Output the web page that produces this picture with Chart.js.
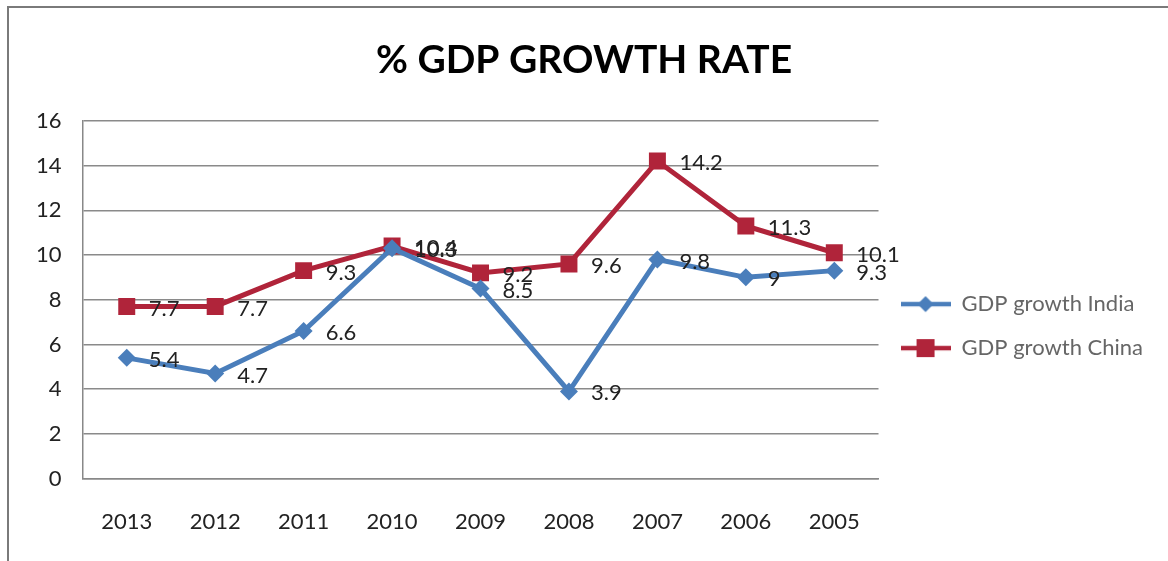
<!DOCTYPE html>
<html>
<head>
<meta charset="utf-8">
<script src="https://cdn.jsdelivr.net/npm/chart.js@4.4.0/dist/chart.umd.min.js"></script>
<style>
  html, body { margin: 0; padding: 0; background: #fff; }
  #wrap { position: relative; width: 1168px; height: 561px; }
</style>
</head>
<body>
<div id="wrap"><canvas id="c" width="1168" height="561"></canvas></div>
<script>
const chartTitle = "% GDP GROWTH RATE";
const years = ["2013", "2012", "2011", "2010", "2009", "2008", "2007", "2006", "2005"];
const indiaLabel = "GDP growth India";
const chinaLabel = "GDP growth China";
const indiaGrowth = [5.4, 4.7, 6.6, 10.3, 8.5, 3.9, 9.8, 9, 9.3];
const chinaGrowth = [7.7, 7.7, 9.3, 10.4, 9.2, 9.6, 14.2, 11.3, 10.1];

const BLUE = "#4A7EBB";
const RED = "#B0243A";
const FONT = "Lato, 'Open Sans', sans-serif";

function legendIcon(color, shape) {
  const cv = document.createElement("canvas");
  cv.width = 50; cv.height = 22;
  const g = cv.getContext("2d");
  g.strokeStyle = color; g.lineWidth = 4.5;
  g.beginPath(); g.moveTo(0, 11); g.lineTo(50, 11); g.stroke();
  g.fillStyle = color;
  if (shape === "diamond") {
    g.beginPath(); g.moveTo(25, 3); g.lineTo(33, 11); g.lineTo(25, 19); g.lineTo(17, 11); g.closePath(); g.fill();
  } else {
    g.fillRect(16, 2, 18, 18);
  }
  return cv;
}

const framePlugin = {
  id: "frame",
  beforeDraw(chart) {
    const ctx = chart.ctx;
    ctx.save();
    ctx.fillStyle = "#fff";
    ctx.fillRect(0, 0, chart.width, chart.height);
    ctx.strokeStyle = "#7a7a7a";
    ctx.lineWidth = 2;
    ctx.beginPath();
    ctx.moveTo(8, chart.height);
    ctx.lineTo(8, 7);
    ctx.lineTo(chart.width, 7);
    ctx.stroke();
    ctx.restore();
  }
};

const valueLabels = {
  id: "valueLabels",
  afterDatasetsDraw(chart) {
    const ctx = chart.ctx;
    ctx.save();
    ctx.font = "22px " + FONT;
    ctx.fillStyle = "#222";
    ctx.textAlign = "left";
    ctx.textBaseline = "middle";
    chart.data.datasets.forEach((ds, i) => {
      const meta = chart.getDatasetMeta(i);
      meta.data.forEach((pt, j) => {
        ctx.fillText(String(ds.data[j]), pt.x + 22, pt.y + 2);
      });
    });
    ctx.restore();
  }
};

new Chart(document.getElementById("c"), {
  type: "line",
  data: {
    labels: years,
    datasets: [
      {
        label: indiaLabel,
        data: indiaGrowth,
        borderColor: BLUE,
        backgroundColor: BLUE,
        borderWidth: 5,
        pointStyle: "rectRot",
        pointRadius: 9,
        pointBorderWidth: 0,
        tension: 0
      },
      {
        label: chinaLabel,
        data: chinaGrowth,
        borderColor: RED,
        backgroundColor: RED,
        borderWidth: 5,
        pointStyle: "rect",
        pointRadius: 12,
        pointBorderWidth: 0,
        tension: 0
      }
    ]
  },
  options: {
    responsive: false,
    animation: false,
    layout: { padding: { left: 15, right: 15, top: 0, bottom: -4 } },
    plugins: {
      title: {
        display: true,
        text: chartTitle,
        color: "#000",
        font: { family: FONT, size: 39, weight: "bold" },
        padding: { top: 37, bottom: 37 }
      },
      legend: {
        position: "right",
        title: { display: true, text: " ", font: { size: 1 }, padding: { top: 86, bottom: 0 } },
        labels: {
          usePointStyle: true,
          pointStyleWidth: 50,
          color: "#111",
          font: { family: FONT, size: 22 },
          padding: 22,
          generateLabels(chart) {
            return chart.data.datasets.map((ds, i) => ({
              text: ds.label,
              pointStyle: legendIcon(ds.borderColor, i === 0 ? "diamond" : "square"),
              fillStyle: ds.borderColor,
              strokeStyle: ds.borderColor,
              lineWidth: 0,
              datasetIndex: i,
              hidden: false
            }));
          }
        }
      },
      tooltip: { enabled: false }
    },
    scales: {
      x: {
        offset: true,
        grid: { display: false, drawTicks: false },
        border: { display: true, color: "#888", width: 1.5 },
        ticks: { color: "#222", font: { family: FONT, size: 22 }, padding: 30 }
      },
      y: {
        min: 0, max: 16,
        ticks: { stepSize: 2, color: "#222", font: { family: FONT, size: 22 }, padding: 21 },
        grid: { color: "#8a8a8a", lineWidth: 1.5, drawTicks: false },
        border: { display: true, color: "#888", width: 1.5 }
      }
    }
  },
  plugins: [framePlugin, valueLabels]
});
</script>
</body>
</html>
